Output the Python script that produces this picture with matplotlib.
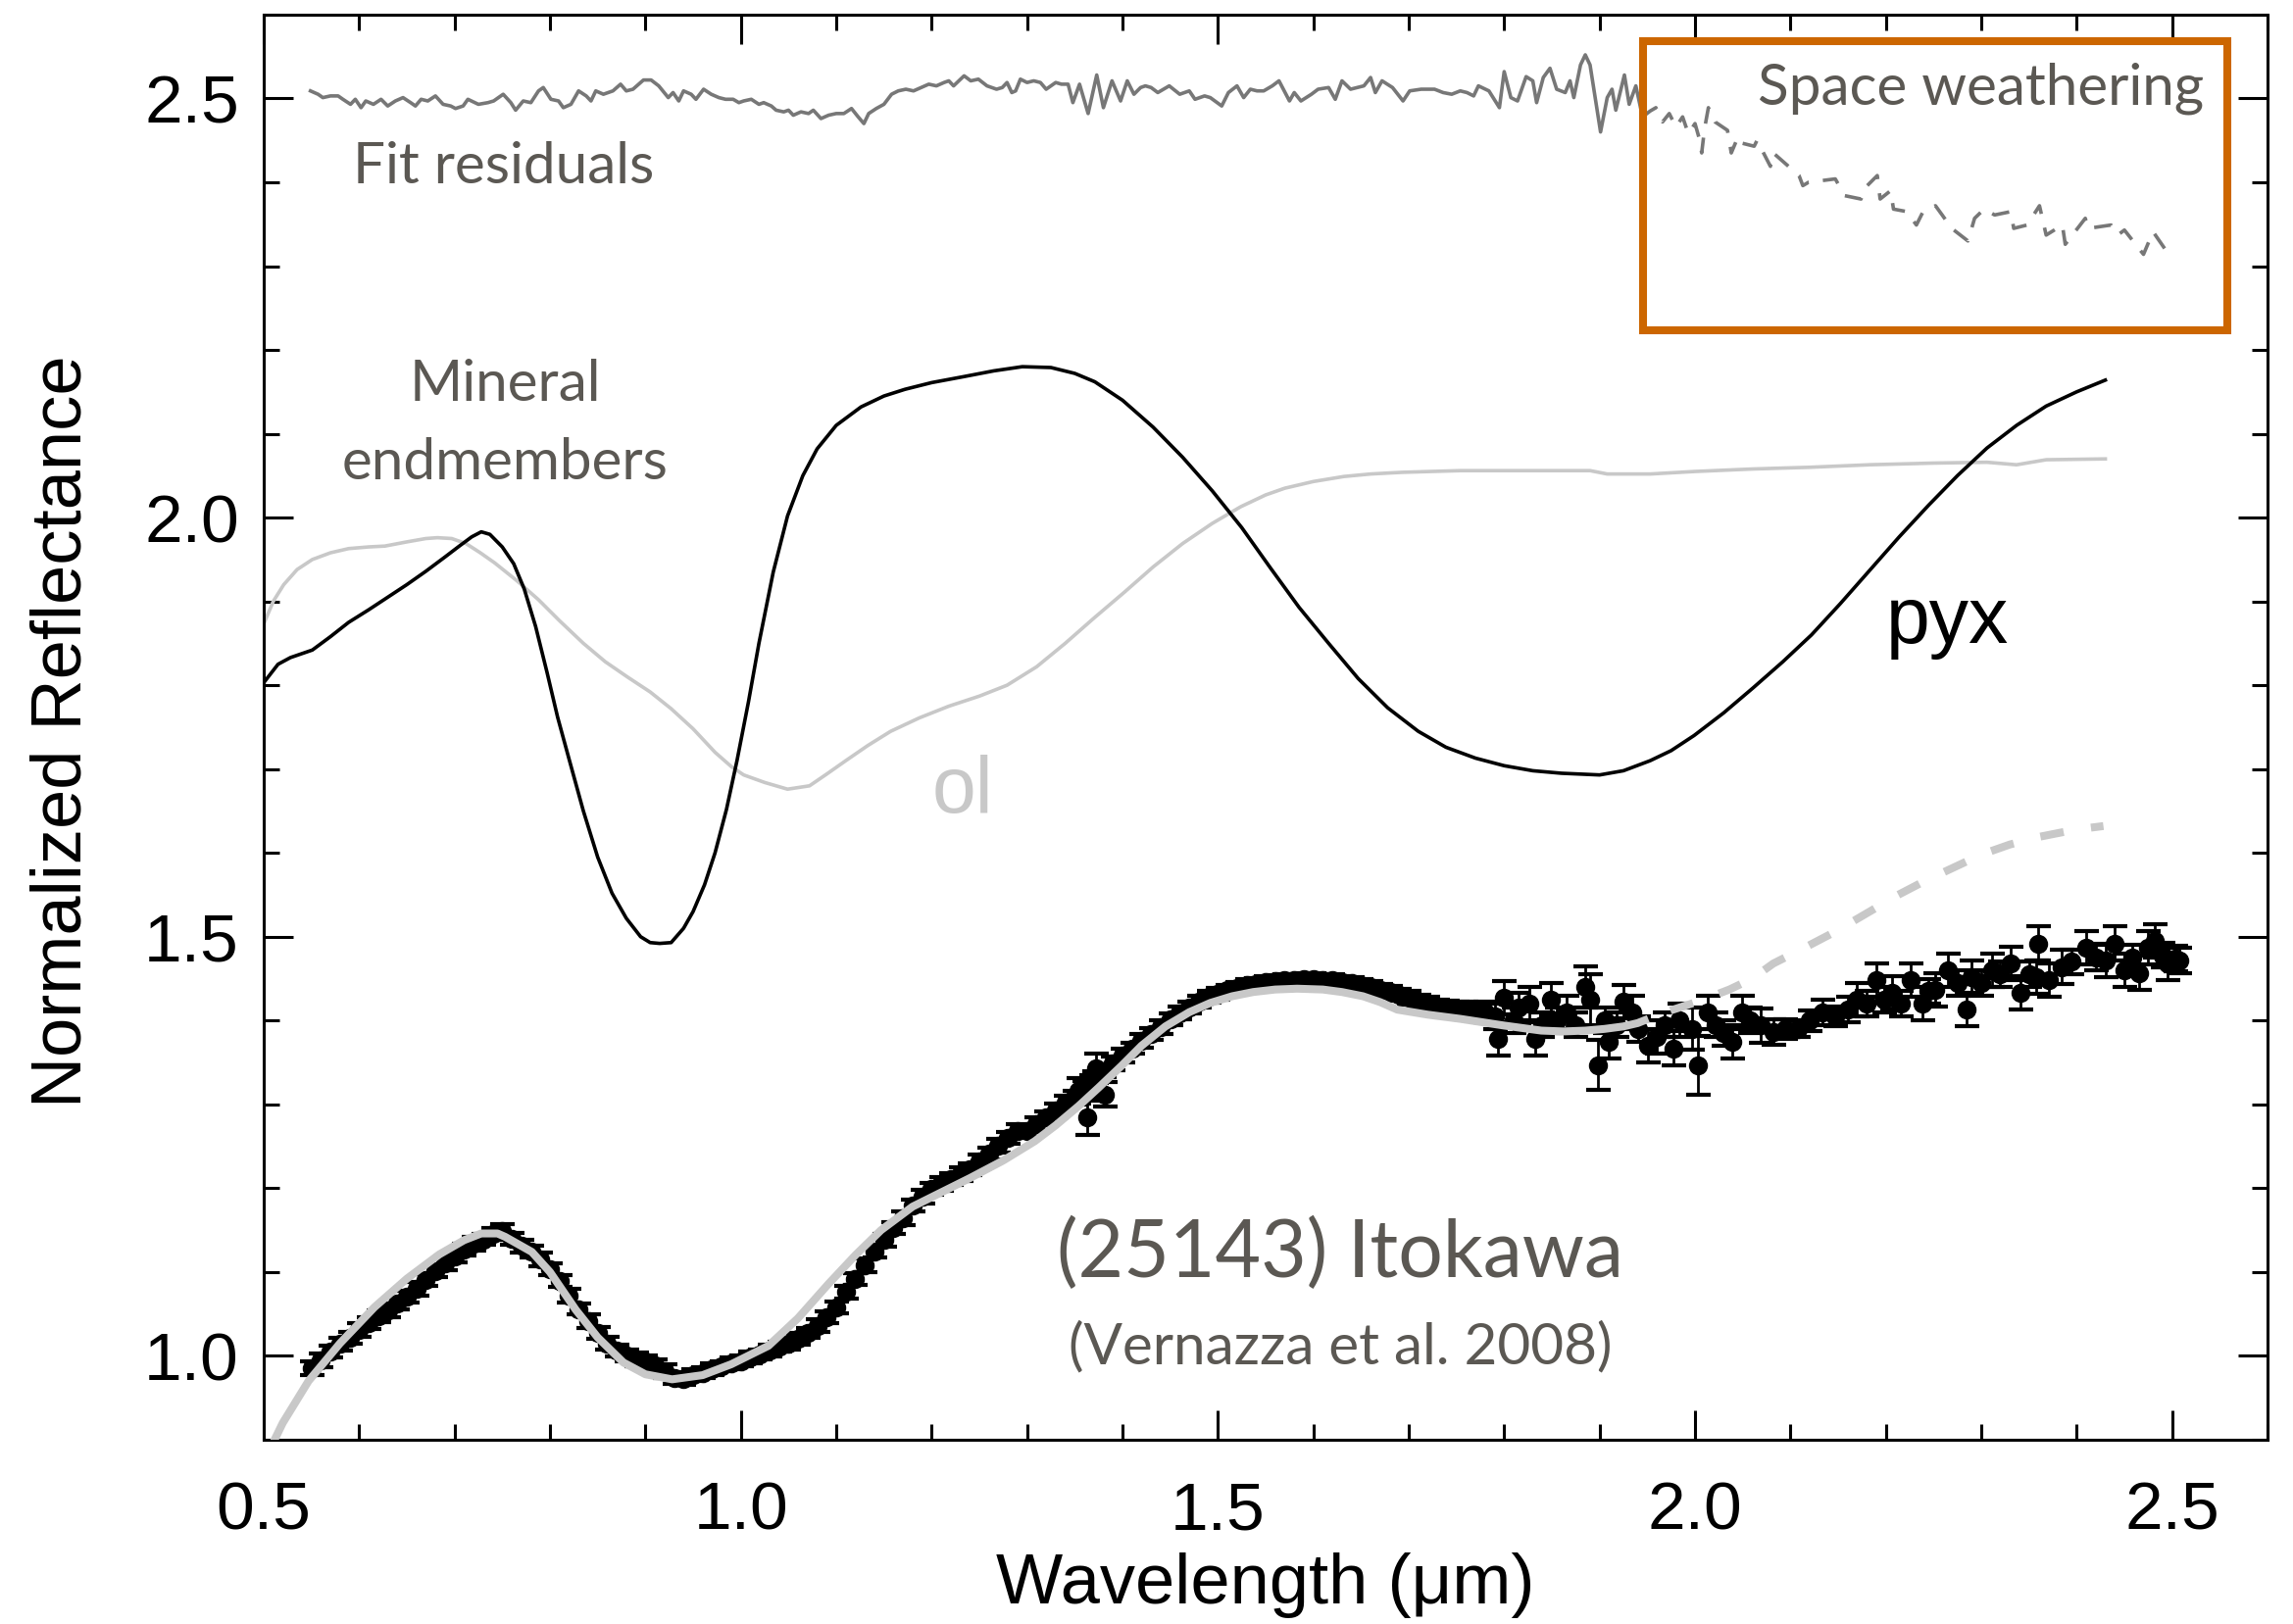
import matplotlib
matplotlib.use('Agg')
import matplotlib.pyplot as plt
from matplotlib.patches import Rectangle
from matplotlib.ticker import MultipleLocator
import numpy as np

#--------------------------#
#  Itokawa spectrum (normalized reflectance, with 1-sigma errors)
#
itokawa_wl = [
    0.550, 0.560, 0.570, 0.580, 0.590, 0.600, 0.610, 0.620, 0.630, 0.640,
    0.650, 0.660, 0.670, 0.680, 0.690, 0.700, 0.710, 0.720, 0.730, 0.740,
    0.750, 0.760, 0.770, 0.780, 0.790, 0.800, 0.810, 0.820, 0.830, 0.840,
    0.850, 0.860, 0.870, 0.880, 0.890, 0.900, 0.910, 0.920, 0.930, 0.940,
    0.950, 0.960, 0.970, 0.980, 0.990, 1.000, 1.010, 1.020, 1.030, 1.040,
    1.050, 1.060, 1.070, 1.080, 1.090, 1.100, 1.110, 1.120, 1.130, 1.140,
    1.150, 1.160, 1.170, 1.180, 1.190, 1.200, 1.210, 1.220, 1.230, 1.240,
    1.250, 1.260, 1.270, 1.280, 1.290, 1.300, 1.310, 1.320, 1.330, 1.340,
    1.350, 1.354, 1.360, 1.363, 1.367, 1.370, 1.372, 1.380, 1.381, 1.390,
    1.400, 1.410, 1.420, 1.430, 1.440, 1.450, 1.460, 1.470, 1.480, 1.490,
    1.500, 1.510, 1.520, 1.530, 1.540, 1.550, 1.560, 1.570, 1.580, 1.590,
    1.600, 1.610, 1.620, 1.630, 1.640, 1.650, 1.660, 1.670, 1.680, 1.690,
    1.700, 1.710, 1.720, 1.730, 1.740, 1.750, 1.760, 1.770, 1.780, 1.790,
    1.793, 1.800, 1.810, 1.815, 1.826, 1.833, 1.840, 1.849, 1.855, 1.865,
    1.875, 1.885, 1.890, 1.898, 1.905, 1.910, 1.918, 1.925, 1.934, 1.940,
    1.951, 1.960, 1.968, 1.977, 1.984, 1.997, 2.003, 2.013, 2.022, 2.030,
    2.039, 2.049, 2.058, 2.069, 2.082, 2.095, 2.108, 2.120, 2.134, 2.147,
    2.160, 2.170, 2.180, 2.190, 2.198, 2.206, 2.216, 2.226, 2.238, 2.245,
    2.252, 2.265, 2.275, 2.285, 2.290, 2.300, 2.311, 2.320, 2.331, 2.341,
    2.350, 2.357, 2.360, 2.371, 2.384, 2.395, 2.410, 2.420, 2.430, 2.440,
    2.450, 2.458, 2.465, 2.475, 2.482, 2.490, 2.495, 2.503, 2.508]

itokawa_refl = [
    0.985, 0.995, 1.005, 1.014, 1.022, 1.031, 1.039, 1.047, 1.054, 1.062,
    1.071, 1.080, 1.091, 1.101, 1.110, 1.119, 1.127, 1.134, 1.139, 1.145,
    1.149, 1.140, 1.131, 1.124, 1.115, 1.103, 1.089, 1.072, 1.056, 1.041,
    1.027, 1.015, 1.006, 1.000, 0.996, 0.993, 0.989, 0.982, 0.974, 0.972,
    0.977, 0.980, 0.984, 0.988, 0.991, 0.994, 0.998, 1.002, 1.006, 1.011,
    1.015, 1.020, 1.027, 1.036, 1.046, 1.058, 1.076, 1.092, 1.108, 1.124,
    1.138, 1.152, 1.164, 1.179, 1.190, 1.199, 1.205, 1.211, 1.217, 1.223,
    1.232, 1.241, 1.251, 1.260, 1.268, 1.268, 1.276, 1.285, 1.293, 1.302,
    1.308, 1.316, 1.318, 1.285, 1.320, 1.329, 1.343, 1.340, 1.312, 1.349,
    1.358, 1.367, 1.376, 1.384, 1.392, 1.401, 1.409, 1.416, 1.422, 1.428,
    1.432, 1.436, 1.439, 1.442, 1.444, 1.446, 1.447, 1.448, 1.448, 1.449,
    1.449, 1.448, 1.448, 1.446, 1.445, 1.443, 1.440, 1.437, 1.434, 1.431,
    1.427, 1.423, 1.420, 1.417, 1.415, 1.414, 1.412, 1.411, 1.410, 1.405,
    1.378, 1.427, 1.400, 1.415, 1.420, 1.378, 1.395, 1.425, 1.400, 1.410,
    1.395, 1.440, 1.425, 1.347, 1.400, 1.375, 1.395, 1.423, 1.410, 1.390,
    1.370, 1.380, 1.395, 1.367, 1.400, 1.390, 1.347, 1.410, 1.395, 1.385,
    1.375, 1.410, 1.400, 1.394, 1.386, 1.390, 1.390, 1.400, 1.410, 1.405,
    1.413, 1.425, 1.420, 1.448, 1.425, 1.433, 1.420, 1.448, 1.420, 1.435,
    1.437, 1.460, 1.445, 1.413, 1.452, 1.445, 1.460, 1.455, 1.468, 1.433,
    1.455, 1.452, 1.492, 1.448, 1.464, 1.470, 1.487, 1.475, 1.472, 1.492,
    1.460, 1.475, 1.457, 1.487, 1.495, 1.478, 1.468, 1.474, 1.472]

itokawa_err = [
    0.008, 0.008, 0.007, 0.008, 0.007, 0.008, 0.007, 0.007, 0.008, 0.007,
    0.007, 0.008, 0.007, 0.007, 0.008, 0.007, 0.007, 0.008, 0.007, 0.007,
    0.008, 0.007, 0.008, 0.007, 0.008, 0.007, 0.007, 0.008, 0.007, 0.008,
    0.007, 0.008, 0.007, 0.007, 0.008, 0.007, 0.007, 0.008, 0.007, 0.007,
    0.007, 0.006, 0.007, 0.006, 0.007, 0.006, 0.007, 0.006, 0.007, 0.006,
    0.007, 0.007, 0.006, 0.008, 0.007, 0.007, 0.008, 0.007, 0.008, 0.007,
    0.008, 0.007, 0.008, 0.007, 0.008, 0.007, 0.008, 0.007, 0.008, 0.007,
    0.008, 0.007, 0.008, 0.007, 0.008, 0.007, 0.008, 0.007, 0.008, 0.008,
    0.008, 0.015, 0.010, 0.022, 0.015, 0.010, 0.018, 0.008, 0.015, 0.008,
    0.008, 0.007, 0.008, 0.007, 0.008, 0.007, 0.008, 0.007, 0.007, 0.007,
    0.007, 0.007, 0.007, 0.007, 0.007, 0.007, 0.007, 0.007, 0.007, 0.007,
    0.007, 0.007, 0.007, 0.007, 0.007, 0.007, 0.007, 0.007, 0.007, 0.007,
    0.008, 0.008, 0.008, 0.008, 0.009, 0.009, 0.010, 0.010, 0.012, 0.015,
    0.020, 0.020, 0.015, 0.018, 0.020, 0.020, 0.015, 0.020, 0.015, 0.020,
    0.015, 0.025, 0.030, 0.030, 0.015, 0.020, 0.015, 0.020, 0.020, 0.015,
    0.020, 0.020, 0.015, 0.020, 0.020, 0.025, 0.035, 0.020, 0.015, 0.015,
    0.020, 0.020, 0.015, 0.020, 0.015, 0.012, 0.010, 0.012, 0.015, 0.012,
    0.015, 0.020, 0.015, 0.020, 0.015, 0.020, 0.015, 0.020, 0.020, 0.015,
    0.020, 0.020, 0.015, 0.020, 0.020, 0.015, 0.020, 0.015, 0.020, 0.020,
    0.015, 0.020, 0.020, 0.020, 0.020, 0.015, 0.020, 0.015, 0.020, 0.020,
    0.020, 0.015, 0.020, 0.020, 0.020, 0.015, 0.020, 0.015, 0.015]

#--------------------------#
#  Model fit (solid where fitted, dashed where extrapolated)
#
fit_wl = [0.505, 0.520, 0.547, 0.580, 0.616, 0.650, 0.684, 0.710, 0.728, 0.745,
          0.753, 0.781, 0.800, 0.827, 0.850, 0.877, 0.900, 0.928, 0.960, 0.990,
          1.029, 1.060, 1.092, 1.120, 1.147, 1.180, 1.210, 1.240, 1.275, 1.308,
          1.330, 1.354, 1.375, 1.399, 1.420, 1.445, 1.470, 1.492, 1.515, 1.537,
          1.560, 1.583, 1.610, 1.630, 1.652, 1.670, 1.688, 1.720, 1.754, 1.800,
          1.839, 1.862, 1.885, 1.905, 1.925, 1.940, 1.951, 1.965, 1.977, 2.004,
          2.036, 2.060, 2.082, 2.115, 2.147, 2.180, 2.213, 2.240, 2.270, 2.300,
          2.330, 2.360, 2.400, 2.428]
fit_refl = [0.885, 0.920, 0.970, 1.015, 1.058, 1.092, 1.121, 1.138, 1.146, 1.146,
            1.142, 1.124, 1.100, 1.055, 1.022, 0.992, 0.978, 0.972, 0.977, 0.990,
            1.012, 1.045, 1.086, 1.120, 1.150, 1.178, 1.195, 1.212, 1.233, 1.256,
            1.275, 1.298, 1.320, 1.346, 1.370, 1.393, 1.410, 1.421, 1.429, 1.434,
            1.437, 1.438, 1.437, 1.434, 1.429, 1.422, 1.413, 1.407, 1.402, 1.394,
            1.388, 1.387, 1.388, 1.390, 1.393, 1.397, 1.402, 1.408, 1.413, 1.423,
            1.437, 1.450, 1.468, 1.487, 1.506, 1.528, 1.550, 1.566, 1.582, 1.598,
            1.610, 1.619, 1.628, 1.632]

#--------------------------#
#  Mineral endmembers
#
pyx_wl = [0.500, 0.515, 0.528, 0.551, 0.570, 0.589, 0.610, 0.630, 0.650, 0.670,
          0.690, 0.705, 0.718, 0.728, 0.737, 0.750, 0.762, 0.773, 0.785, 0.797,
          0.808, 0.820, 0.835, 0.850, 0.865, 0.880, 0.895, 0.905, 0.915, 0.927,
          0.940, 0.950, 0.962, 0.973, 0.985, 0.996, 1.008, 1.019, 1.034, 1.049,
          1.065, 1.080, 1.100, 1.126, 1.150, 1.172, 1.200, 1.233, 1.265, 1.295,
          1.325, 1.350, 1.371, 1.400, 1.432, 1.463, 1.494, 1.525, 1.555, 1.585,
          1.616, 1.647, 1.678, 1.710, 1.739, 1.770, 1.800, 1.830, 1.860, 1.900,
          1.925, 1.953, 1.975, 1.999, 2.030, 2.061, 2.092, 2.122, 2.152, 2.183,
          2.214, 2.245, 2.275, 2.306, 2.337, 2.368, 2.400, 2.430]
pyx_refl = [1.803, 1.825, 1.833, 1.842, 1.858, 1.875, 1.890, 1.905, 1.920, 1.936,
            1.953, 1.966, 1.977, 1.983, 1.980, 1.965, 1.945, 1.915, 1.870, 1.815,
            1.762, 1.712, 1.650, 1.595, 1.552, 1.522, 1.500, 1.493, 1.492, 1.493,
            1.510, 1.530, 1.562, 1.600, 1.652, 1.710, 1.780, 1.850, 1.935, 2.002,
            2.050, 2.082, 2.110, 2.132, 2.145, 2.153, 2.161, 2.168, 2.175, 2.180,
            2.179, 2.172, 2.162, 2.140, 2.108, 2.072, 2.032, 1.988, 1.940, 1.893,
            1.850, 1.808, 1.773, 1.745, 1.726, 1.713, 1.704, 1.698, 1.695, 1.693,
            1.698, 1.710, 1.722, 1.740, 1.767, 1.797, 1.828, 1.860, 1.897, 1.937,
            1.977, 2.015, 2.050, 2.083, 2.110, 2.133, 2.150, 2.164]

ol_wl = [0.500, 0.510, 0.521, 0.535, 0.551, 0.570, 0.589, 0.610, 0.627, 0.650,
         0.670, 0.682, 0.697, 0.712, 0.727, 0.742, 0.765, 0.788, 0.810, 0.835,
         0.858, 0.881, 0.905, 0.927, 0.950, 0.973, 0.990, 1.003, 1.025, 1.049,
         1.072, 1.090, 1.110, 1.133, 1.157, 1.187, 1.218, 1.250, 1.279, 1.310,
         1.340, 1.370, 1.402, 1.432, 1.463, 1.494, 1.524, 1.550, 1.570, 1.600,
         1.632, 1.660, 1.693, 1.754, 1.846, 1.890, 1.908, 1.953, 2.000, 2.061,
         2.120, 2.183, 2.250, 2.306, 2.337, 2.368, 2.430]
ol_refl = [1.873, 1.900, 1.920, 1.938, 1.950, 1.958, 1.963, 1.965, 1.966, 1.971,
           1.975, 1.976, 1.975, 1.969, 1.958, 1.946, 1.925, 1.902, 1.877, 1.850,
           1.828, 1.810, 1.792, 1.772, 1.748, 1.720, 1.703, 1.693, 1.684, 1.676,
           1.680, 1.694, 1.710, 1.728, 1.745, 1.761, 1.775, 1.787, 1.800, 1.822,
           1.850, 1.880, 1.911, 1.941, 1.969, 1.993, 2.013, 2.027, 2.035, 2.043,
           2.049, 2.052, 2.054, 2.056, 2.056, 2.056, 2.052, 2.052, 2.055, 2.058,
           2.060, 2.063, 2.065, 2.066, 2.063, 2.069, 2.070]

#--------------------------#
#  Fit residuals (offset to 2.5)
#
res_wl = [
    0.549, 0.557, 0.562, 0.570, 0.578, 0.583, 0.591, 0.596, 0.602, 0.607,
    0.615, 0.623, 0.630, 0.638, 0.646, 0.654, 0.659, 0.665, 0.672, 0.680,
    0.688, 0.696, 0.701, 0.709, 0.714, 0.725, 0.735, 0.741, 0.751, 0.759,
    0.764, 0.772, 0.780, 0.788, 0.793, 0.801, 0.809, 0.814, 0.822, 0.830,
    0.838, 0.843, 0.848, 0.856, 0.866, 0.874, 0.880, 0.887, 0.898, 0.906,
    0.914, 0.924, 0.929, 0.935, 0.940, 0.948, 0.953, 0.961, 0.969, 0.977,
    0.984, 0.992, 0.998, 1.003, 1.011, 1.019, 1.024, 1.032, 1.037, 1.045,
    1.050, 1.055, 1.063, 1.071, 1.076, 1.084, 1.092, 1.100, 1.108, 1.116,
    1.123, 1.129, 1.134, 1.142, 1.150, 1.158, 1.165, 1.173, 1.181, 1.189,
    1.197, 1.205, 1.213, 1.218, 1.223, 1.234, 1.241, 1.249, 1.258, 1.268,
    1.274, 1.279, 1.284, 1.288, 1.293, 1.300, 1.307, 1.314, 1.320, 1.330,
    1.336, 1.343, 1.348, 1.355, 1.364, 1.373, 1.380, 1.389, 1.398, 1.405,
    1.412, 1.419, 1.424, 1.430, 1.437, 1.449, 1.460, 1.470, 1.476, 1.486,
    1.492, 1.504, 1.511, 1.520, 1.527, 1.534, 1.541, 1.548, 1.557, 1.564,
    1.575, 1.580, 1.587, 1.598, 1.605, 1.616, 1.623, 1.630, 1.639, 1.646,
    1.653, 1.660, 1.665, 1.672, 1.683, 1.694, 1.701, 1.713, 1.727, 1.736,
    1.745, 1.754, 1.761, 1.768, 1.773, 1.784, 1.795, 1.800, 1.807, 1.814,
    1.823, 1.830, 1.834, 1.841, 1.848, 1.855, 1.864, 1.869, 1.873, 1.880,
    1.885, 1.890, 1.901, 1.908, 1.913, 1.917, 1.926, 1.931, 1.938, 1.945,
    1.953, 1.959, 1.966, 1.973, 1.980, 1.987, 1.993, 2.000, 2.004, 2.007,
    2.010, 2.014, 2.021, 2.034, 2.038, 2.045, 2.048, 2.062, 2.065, 2.079,
    2.082, 2.109, 2.113, 2.119, 2.147, 2.157, 2.174, 2.177, 2.191, 2.194,
    2.205, 2.208, 2.222, 2.232, 2.239, 2.252, 2.259, 2.269, 2.286, 2.293,
    2.303, 2.314, 2.331, 2.334, 2.348, 2.361, 2.368, 2.385, 2.388, 2.409,
    2.412, 2.436, 2.443, 2.450, 2.470, 2.480, 2.494]

res_val = [
    2.509, 2.505, 2.501, 2.503, 2.503, 2.499, 2.493, 2.499, 2.489, 2.497,
    2.493, 2.499, 2.491, 2.497, 2.501, 2.495, 2.491, 2.499, 2.497, 2.503,
    2.493, 2.491, 2.488, 2.491, 2.499, 2.493, 2.495, 2.497, 2.505, 2.495,
    2.486, 2.497, 2.495, 2.509, 2.513, 2.499, 2.497, 2.489, 2.493, 2.509,
    2.503, 2.497, 2.509, 2.505, 2.509, 2.517, 2.509, 2.511, 2.522, 2.522,
    2.515, 2.501, 2.507, 2.497, 2.509, 2.505, 2.499, 2.511, 2.505, 2.501,
    2.499, 2.499, 2.495, 2.497, 2.499, 2.493, 2.495, 2.491, 2.486, 2.484,
    2.486, 2.480, 2.484, 2.482, 2.486, 2.476, 2.480, 2.482, 2.482, 2.488,
    2.478, 2.470, 2.482, 2.488, 2.493, 2.505, 2.509, 2.511, 2.509, 2.513,
    2.517, 2.515, 2.519, 2.521, 2.515, 2.527, 2.521, 2.523, 2.515, 2.511,
    2.513, 2.519, 2.507, 2.509, 2.523, 2.519, 2.521, 2.519, 2.511, 2.519,
    2.517, 2.517, 2.495, 2.517, 2.482, 2.528, 2.489, 2.521, 2.497, 2.521,
    2.505, 2.513, 2.515, 2.513, 2.507, 2.515, 2.505, 2.509, 2.499, 2.503,
    2.501, 2.491, 2.507, 2.515, 2.501, 2.511, 2.509, 2.509, 2.515, 2.521,
    2.497, 2.507, 2.497, 2.505, 2.511, 2.513, 2.499, 2.521, 2.511, 2.513,
    2.515, 2.525, 2.507, 2.521, 2.513, 2.497, 2.509, 2.511, 2.511, 2.507,
    2.505, 2.509, 2.507, 2.503, 2.515, 2.509, 2.489, 2.532, 2.501, 2.497,
    2.526, 2.521, 2.495, 2.525, 2.536, 2.511, 2.507, 2.521, 2.501, 2.540,
    2.552, 2.540, 2.460, 2.501, 2.511, 2.486, 2.528, 2.493, 2.515, 2.478,
    2.485, 2.489, 2.472, 2.482, 2.466, 2.478, 2.458, 2.470, 2.454, 2.435,
    2.464, 2.489, 2.472, 2.462, 2.435, 2.454, 2.447, 2.443, 2.450, 2.419,
    2.435, 2.408, 2.396, 2.400, 2.404, 2.384, 2.380, 2.392, 2.408, 2.380,
    2.390, 2.368, 2.365, 2.349, 2.365, 2.372, 2.361, 2.345, 2.330, 2.357,
    2.368, 2.361, 2.365, 2.345, 2.349, 2.372, 2.337, 2.349, 2.326, 2.357,
    2.345, 2.349, 2.337, 2.343, 2.314, 2.341, 2.318]

text_gray = '#5b5853'
light_gray = '#c8c8c8'

plt.rcParams['font.family'] = 'Liberation Sans'

fig = plt.figure(figsize=(11.695, 8.285), dpi=200)
ax = fig.add_axes([0.1150, 0.1135, 0.8739, 0.8775])

# endmember spectra
ax.plot(ol_wl, ol_refl, color=light_gray, linewidth=1.3, zorder=2)
ax.plot(pyx_wl, pyx_refl, color='black', linewidth=1.3, zorder=3)

# asteroid spectrum with error bars
ax.errorbar(itokawa_wl, itokawa_refl, yerr=itokawa_err, fmt='o', color='black',
            markersize=6.0, elinewidth=1.0, capsize=4.5, capthick=1.5, zorder=4)

# fit: solid over the fitted range, dashed beyond
fw = np.array(fit_wl)
fr = np.array(fit_refl)
solid = fw <= 1.951
dashed = fw >= 1.951
ax.plot(fw[solid], fr[solid], color=light_gray, linewidth=2.9, zorder=5,
        solid_capstyle='butt')
ax.plot(fw[dashed], fr[dashed], color=light_gray, linewidth=2.9,
        linestyle=(3.5, (3.0, 3.5)), zorder=5)

# residuals
rw = np.array(res_wl)
rv = np.array(res_val)
ax.plot(rw[rw <= 1.945], rv[rw <= 1.945], color='#777777', linewidth=1.3, zorder=3)
ax.plot(rw[rw >= 1.945], rv[rw >= 1.945], color='#777777', linewidth=1.3,
        linestyle=(0, (5, 4)), zorder=3)

# space weathering box
ax.add_patch(Rectangle((1.946, 2.223), 2.558 - 1.946, 2.568 - 2.223, fill=False,
                       edgecolor='#cc6600', linewidth=2.9, zorder=6))

# annotations
ann = dict(family='Lato', color=text_gray)
ax.text(0.594, 2.399, 'Fit residuals', fontsize=21, ha='left', va='baseline', **ann)
ax.text(0.753, 2.139, 'Mineral', fontsize=21, ha='center', va='baseline', **ann)
ax.text(0.753, 2.046, 'endmembers', fontsize=21, ha='center', va='baseline', **ann)
ax.text(2.533, 2.493, 'Space weathering', fontsize=21, ha='right', va='baseline',
        zorder=7, **ann)
ax.text(1.628, 1.094, '(25143) Itokawa', fontsize=29, ha='center', va='baseline', **ann)
ax.text(1.628, 0.990, '(Vernazza et al. 2008)', fontsize=21, ha='center',
        va='baseline', **ann)
ax.text(2.200, 1.850, 'pyx', fontsize=29, color='black', ha='left', va='baseline')
ax.text(1.200, 1.648, 'ol', fontsize=29, color=light_gray, ha='left', va='baseline')

ax.set_xlim(0.5, 2.6)
ax.set_ylim(0.9, 2.6)
ax.xaxis.set_major_locator(MultipleLocator(0.5))
ax.xaxis.set_minor_locator(MultipleLocator(0.1))
ax.yaxis.set_major_locator(MultipleLocator(0.5))
ax.yaxis.set_minor_locator(MultipleLocator(0.1))
ax.xaxis.set_major_formatter(plt.FormatStrFormatter('%.1f'))
ax.yaxis.set_major_formatter(plt.FormatStrFormatter('%.1f'))

ax.tick_params(which='both', direction='in', top=True, right=True, width=1.1)
ax.tick_params(which='major', length=10.8)
ax.tick_params(which='minor', length=5.6)
ax.tick_params(axis='x', which='major', labelsize=25, pad=15)
ax.tick_params(axis='y', which='major', labelsize=25, pad=9)
for sp in ax.spines.values():
    sp.set_linewidth(1.1)

ax.set_xlabel('Wavelength (\u03bcm)', fontsize=26)
ax.set_ylabel('Normalized Reflectance', fontsize=26)
ax.xaxis.set_label_coords(0.5, -0.079)
ax.yaxis.set_label_coords(-0.084, 0.497)

fig.savefig('out.png', dpi=200)
